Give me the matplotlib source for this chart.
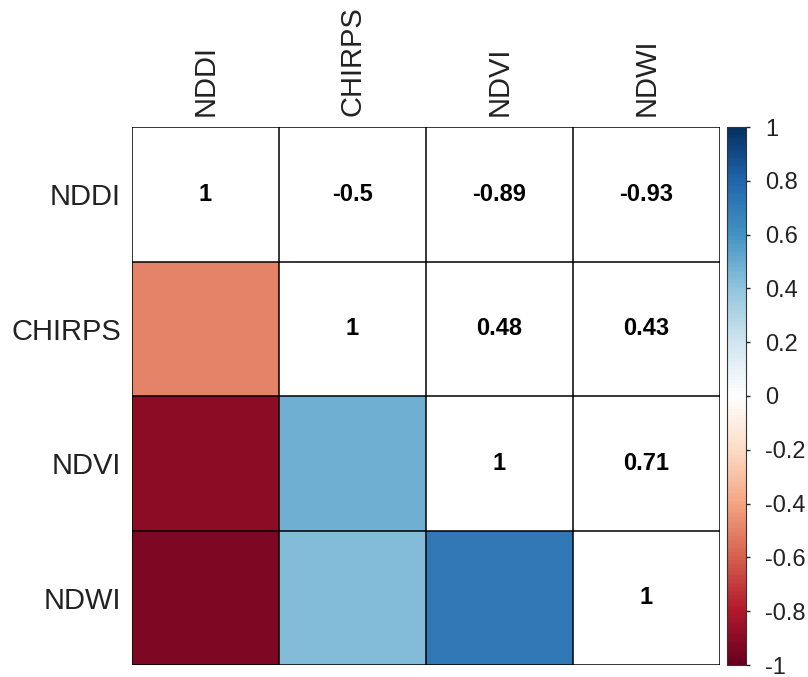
import numpy as np
import matplotlib
matplotlib.use("Agg")
import matplotlib.pyplot as plt
from matplotlib.colors import LinearSegmentedColormap, Normalize
import matplotlib.colorbar as mcolorbar

plt.rcParams['font.family'] = ['Liberation Sans', 'DejaVu Sans']

labels = ["NDDI", "CHIRPS", "NDVI", "NDWI"]
corr = [[1.00, -0.50, -0.89, -0.93],
        [-0.50, 1.00, 0.48, 0.43],
        [-0.89, 0.48, 1.00, 0.71],
        [-0.93, 0.43, 0.71, 1.00]]
cbar_ticks = [1, 0.8, 0.6, 0.4, 0.2, 0, -0.2, -0.4, -0.6, -0.8, -1]
cbar_ticklabels = ["1", "0.8", "0.6", "0.4", "0.2", "0", "-0.2", "-0.4", "-0.6", "-0.8", "-1"]

col2 = ["#67001F", "#B2182B", "#D6604D", "#F4A582", "#FDDBC7", "#FFFFFF",
        "#D1E5F0", "#92C5DE", "#4393C3", "#2166AC", "#053061"]
cmap = LinearSegmentedColormap.from_list("RdBu_corrplot", col2, N=200)
norm = Normalize(-1, 1)

C = np.array(corr)
n = len(labels)
mask = np.triu(np.ones_like(C, dtype=bool))
Cm = np.ma.masked_array(C, mask=mask)

fig = plt.figure(figsize=(8.08, 6.77), dpi=100)
W, H = 808, 677
L, R, T, B = 132, 720, 127, 665
ax = fig.add_axes([L / W, 1 - B / H, (R - L) / W, (B - T) / H])
ax.set_facecolor("white")
ax.pcolormesh(np.arange(n + 1), np.arange(n + 1), Cm, cmap=cmap, norm=norm)
ax.set_xlim(0, n)
ax.set_ylim(n, 0)
for k in range(n + 1):
    ax.axhline(k, color="black", lw=1.1)
    ax.axvline(k, color="black", lw=1.1)

for i in range(n):
    for j in range(n):
        if j >= i:
            v = C[i, j]
            s = "1" if v == 1 else ("%g" % v)
            ax.text(j + 0.5, i + 0.5, s, ha="center", va="center",
                    fontsize=17, fontweight="bold", color="black")

ax.set_xticks(np.arange(n) + 0.5)
ax.set_yticks(np.arange(n) + 0.5)
ax.set_xticklabels(labels, rotation=90, fontsize=21, color="#222222")
ax.set_yticklabels(labels, fontsize=21, color="#222222")
ax.xaxis.tick_top()
ax.tick_params(length=0, pad=8)
for sp in ax.spines.values():
    sp.set_visible(False)

cax = fig.add_axes([727 / W, 1 - B / H, 19 / W, (B - T) / H])
cb = mcolorbar.ColorbarBase(cax, cmap=cmap, norm=norm, orientation="vertical")
cb.set_ticks(cbar_ticks)
cb.set_ticklabels(cbar_ticklabels)
cb.outline.set_linewidth(0.8)
cb.outline.set_edgecolor("#333333")
cax.tick_params(labelsize=17, length=3, width=1, pad=11, colors="#222222")

fig.savefig("out.png", dpi=100)
